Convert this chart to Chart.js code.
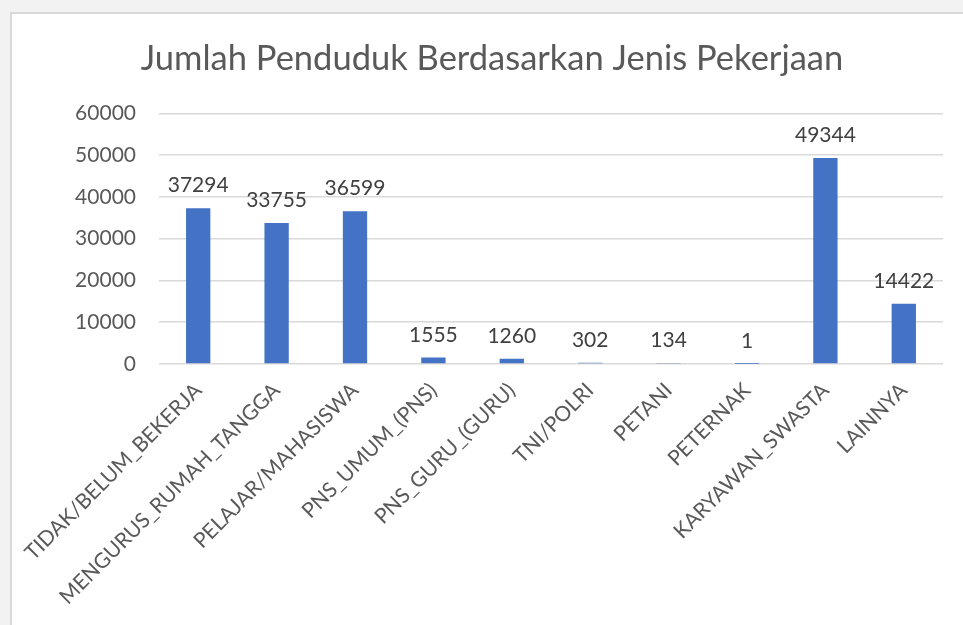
<!DOCTYPE html>
<html>
<head>
<meta charset="utf-8">
<script src="https://cdn.jsdelivr.net/npm/chart.js@4.4.0/dist/chart.umd.min.js"></script>
<style>
  html, body { margin: 0; padding: 0; background: #f2f2f2; width: 963px; height: 625px; overflow: hidden; }
  #box { position: absolute; left: 10px; top: 12px; width: 951px; height: 611px; background: #ffffff; border: 2px solid #d9d9d9; border-right: none; border-bottom: none; }
  canvas { display: block; }
</style>
</head>
<body>
<div id="box"><canvas id="c" width="953" height="613"></canvas></div>
<script>
const chartTitle = "Jumlah Penduduk Berdasarkan Jenis Pekerjaan";
const categories = [
  "TIDAK/BELUM_BEKERJA",
  "MENGURUS_RUMAH_TANGGA",
  "PELAJAR/MAHASISWA",
  "PNS_UMUM_(PNS)",
  "PNS_GURU_(GURU)",
  "TNI/POLRI",
  "PETANI",
  "PETERNAK",
  "KARYAWAN_SWASTA",
  "LAINNYA"
];
const values = [37294, 33755, 36599, 1555, 1260, 302, 134, 1, 49344, 14422];
const yTicks = [0, 10000, 20000, 30000, 40000, 50000, 60000];

const FONT = "Lato, 'Noto Sans', sans-serif";

const dataLabelPlugin = {
  id: 'dataLabels',
  afterDatasetsDraw(chart) {
    const ctx = chart.ctx;
    const meta = chart.getDatasetMeta(0);
    ctx.save();
    ctx.font = "21px " + FONT;
    ctx.fillStyle = "#404040";
    ctx.textAlign = "center";
    ctx.textBaseline = "alphabetic";
    meta.data.forEach((bar, i) => {
      ctx.fillText(String(values[i]), bar.x, bar.y - 16);
    });
    ctx.restore();
  }
};

new Chart(document.getElementById('c'), {
  type: 'bar',
  data: {
    labels: categories,
    datasets: [{
      data: values,
      backgroundColor: '#4472C4',
      borderWidth: 0,
      categoryPercentage: 1.0,
      barPercentage: 0.31
    }]
  },
  options: {
    responsive: false,
    animation: false,
    devicePixelRatio: 1,
    layout: { padding: { left: 29, right: 22, top: 0, bottom: 0 } },
    plugins: {
      legend: { display: false },
      tooltip: { enabled: false },
      title: {
        display: true,
        text: chartTitle,
        color: '#595959',
        font: { family: FONT, size: 34.5, weight: '400' },
        padding: { top: 24, bottom: 34 }
      }
    },
    scales: {
      x: {
        grid: { display: false, drawTicks: false },
        border: { display: false },
        ticks: {
          color: '#595959',
          font: { family: FONT, size: 21 },
          minRotation: 45,
          maxRotation: 45,
          autoSkip: false,
          padding: 14
        },
        afterFit(scale) { scale.height = 263; scale.paddingLeft = 0; scale.paddingRight = 0; }
      },
      y: {
        min: 0,
        max: 60000,
        afterBuildTicks(scale) { scale.ticks = yTicks.map(v => ({ value: v })); },
        grid: { color: '#d9d9d9', lineWidth: 1.5, drawTicks: false },
        border: { display: false },
        ticks: {
          color: '#595959',
          font: { family: FONT, size: 21 },
          padding: 23,
          callback: v => String(v)
        },
        afterFit(scale) { scale.width = 118; }
      }
    }
  },
  plugins: [dataLabelPlugin]
});
</script>
</body>
</html>
